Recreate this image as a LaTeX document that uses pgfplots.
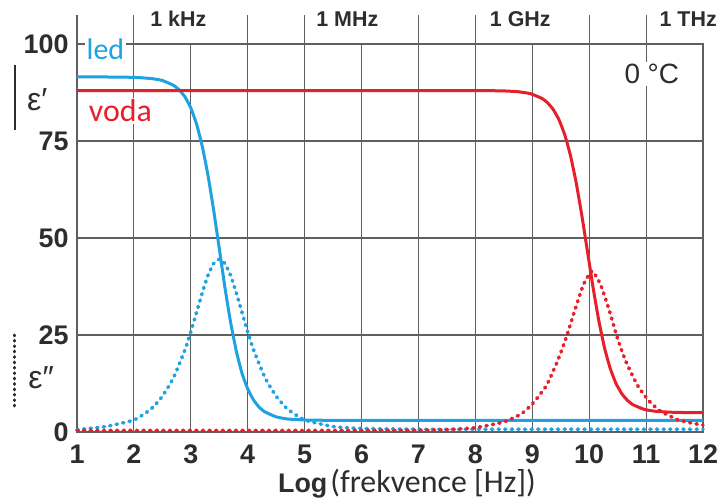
\documentclass[border=0pt]{standalone}
\usepackage{pgfplots}
\pgfplotsset{compat=1.18}
\usepackage{fontspec}
\setmainfont{Liberation Sans}
\newfontfamily\calibri{Carlito}
\definecolor{iceblue}{RGB}{30,162,225}
\definecolor{waterred}{RGB}{230,32,42}
\definecolor{gridgray}{RGB}{95,95,95}
\definecolor{txtgray}{RGB}{45,45,45}

\pgfplotstableread{
x y
1.0 91.5
1.5 91.5
2.0 91.4
2.3 91.1
2.5 90.6
2.7 89.3
2.8 88.1
2.9 86.3
3.0 83.5
3.1 79.4
3.2 73.7
3.3 66.3
3.4 57.3
3.5 47.3
3.6 37.2
3.7 28.2
3.8 20.8
3.9 15.1
4.0 11.1
4.1 8.3
4.2 6.4
4.3 5.2
4.5 3.9
4.7 3.35
5.0 3.1
5.5 3.0
6.5 3.0
8.0 3.0
10.0 3.0
12.0 3.0
}\iceprime

\pgfplotstableread{
x y
1.0 0.6
1.5 1.4
2.0 3.1
2.3 5.9
2.5 9.2
2.7 14.1
2.9 21.3
3.0 25.8
3.1 30.8
3.2 35.8
3.3 40.3
3.4 43.4
3.5 44.5
3.6 43.4
3.7 40.3
3.8 35.8
3.9 30.8
4.0 25.8
4.1 21.3
4.3 14.1
4.5 9.2
4.7 5.9
5.0 3.1
5.5 1.4
6.0 0.9
7.0 0.7
8.5 0.7
10.0 0.7
12.0 0.7
}\icesecond

\pgfplotstableread{
x y
1.0 88.0
3.0 88.0
5.0 88.0
7.0 88.0
8.0 88.0
8.47 87.92
8.75 87.7
8.97 87.18
9.17 85.97
9.27 84.82
9.37 83.07
9.47 80.45
9.57 76.64
9.67 71.33
9.77 64.36
9.87 55.89
9.97 46.5
10.07 37.11
10.17 28.63
10.27 21.67
10.37 16.36
10.47 12.55
10.57 9.93
10.67 8.18
10.77 7.03
10.97 5.82
11.17 5.33
11.47 5.08
11.75 5.0
12.0 5.0
}\waterprime

\pgfplotstableread{
x y
1.0 0.4
3.0 0.4
5.0 0.4
7.0 0.45
7.5 0.6
8.0 1.1
8.5 2.6
8.8 4.6
9.0 7.2
9.25 12.0
9.45 18.5
9.6 24.5
9.75 31.5
9.9 38.0
10.05 41.5
10.2 38.0
10.35 31.5
10.5 24.0
10.65 18.0
10.85 12.0
11.05 8.0
11.25 5.4
11.55 3.2
11.8 2.3
12.0 1.8
}\watersecond

\begin{document}
\begin{tikzpicture}
\begin{axis}[
  width=626bp, height=388bp, scale only axis,
  xmin=1, xmax=12, ymin=0, ymax=100,
  xtick={1,...,12}, ytick={0,25,50,75,100},
  grid=major, major grid style={gridgray, line width=1.1bp},
  axis line style={gridgray, line width=1.1bp},
  tick style={draw=none},
  ticklabel style={font=\fontsize{27}{27}\selectfont\bfseries, text=txtgray},
  xticklabel style={yshift=-9bp},
  yticklabel style={xshift=-5bp},
  /pgf/number format/assume math mode=true,
  clip=false,
]
\pgfplotsinvokeforeach{1,2,4,5,7,8,10,11}{
  \draw[gridgray, line width=1.1bp] (axis cs:#1,100) -- (axis cs:#1,107.5);
}
\addplot[iceblue, line width=3bp, smooth, tension=0.3] table {\iceprime};
\addplot[waterred, line width=3bp, smooth, tension=0.3] table {\waterprime};
\addplot[iceblue, line width=3.6bp, line cap=round, dash pattern=on 1.2bp off 5.4bp, smooth, tension=0.3] table {\icesecond};
\addplot[waterred, line width=3.6bp, line cap=round, dash pattern=on 1.2bp off 5.4bp, smooth, tension=0.3] table {\watersecond};

\node[anchor=base west, fill=white, inner sep=1.5bp, text=iceblue, font=\calibri\fontsize{30}{30}\selectfont] at (axis cs:1.14,95.9) {led};
\node[anchor=base west, fill=white, inner sep=1.5bp, text=waterred, font=\calibri\fontsize{32}{32}\selectfont] at (axis cs:1.18,79.9) {voda};
\node[fill=white, inner sep=2bp, text=txtgray, font=\fontsize{28}{28}\selectfont] at (axis cs:11.1,92.3) {0 °C};

\node[anchor=base, text=txtgray, font=\fontsize{21.5}{21.5}\selectfont\bfseries] at (axis cs:2.78,104.4) {1 kHz};
\node[anchor=base, text=txtgray, font=\fontsize{21.5}{21.5}\selectfont\bfseries] at (axis cs:5.75,104.4) {1 MHz};
\node[anchor=base, text=txtgray, font=\fontsize{21.5}{21.5}\selectfont\bfseries] at (axis cs:8.79,104.4) {1 GHz};
\node[anchor=base, text=txtgray, font=\fontsize{21.5}{21.5}\selectfont\bfseries] at (axis cs:11.74,104.4) {1 THz};

\node[text=txtgray, font=\fontsize{32}{32}\selectfont] at (axis cs:0.30,85.6) {ε′};
\draw[txtgray, line width=2.5bp] (axis cs:-0.09,94.6) -- (axis cs:-0.09,77.8);
\node[text=txtgray, font=\fontsize{32}{32}\selectfont] at (axis cs:0.37,13.9) {ε″};
\draw[txtgray, line width=3bp, line cap=round, dash pattern=on 0.8bp off 4.6bp] (axis cs:-0.09,25) -- (axis cs:-0.09,6.4);

\node[anchor=base west, inner sep=0pt, text=txtgray] at (axis cs:4.53,-15.7)
  {\fontsize{27}{27}\selectfont\bfseries Log\hspace{3bp}{\calibri\mdseries\fontsize{32}{32}\selectfont (frekvence [Hz])}};
\end{axis}
\path (current axis.south west) ++(-77bp,-72bp);
\path (current axis.north east) ++(21bp,44bp);
\end{tikzpicture}
\end{document}
